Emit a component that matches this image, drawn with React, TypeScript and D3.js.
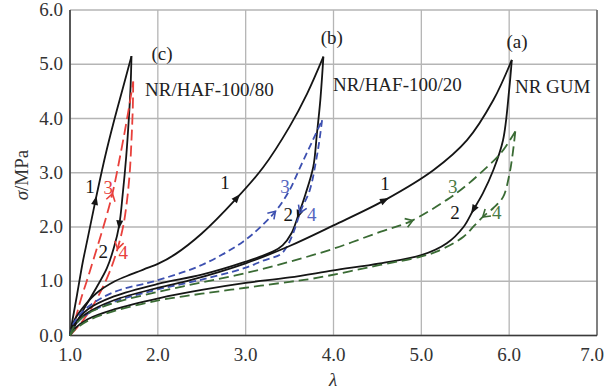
import React from 'react';
import * as d3 from 'd3';

type P = [number, number];

const xTicks = [1, 2, 3, 4, 5, 6, 7];
const yTicks = [0, 1, 2, 3, 4, 5, 6];

// (c) NR/HAF-100/80
const cLoad1: P[] = [[1.0, 0], [1.03, 0.3], [1.08, 0.75], [1.145, 1.35], [1.2, 1.78], [1.285, 2.45], [1.4, 3.3], [1.5, 3.95], [1.6, 4.55], [1.70, 5.15]];
const cUnload2: P[] = [[1.70, 5.15], [1.69, 4.6], [1.67, 4.0], [1.64, 3.3], [1.6, 2.6], [1.56, 2.03], [1.5, 1.62], [1.42, 1.24], [1.3, 0.88], [1.18, 0.55], [1.08, 0.25], [1.0, 0]];
const cLoad3: P[] = [[1.0, 0], [1.06, 0.3], [1.13, 0.7], [1.2, 1.05], [1.265, 1.39], [1.37, 1.95], [1.475, 2.56], [1.57, 3.3], [1.65, 4.0], [1.72, 4.68]];
const cUnload4: P[] = [[1.72, 4.68], [1.715, 4.2], [1.70, 3.6], [1.68, 3.0], [1.65, 2.5], [1.61, 2.05], [1.55, 1.65], [1.47, 1.25], [1.37, 0.88], [1.25, 0.52], [1.12, 0.22], [1.0, 0]];

// (b) NR/HAF-100/20
const bLoad1: P[] = [[1.0, 0], [1.05, 0.28], [1.17, 0.56], [1.3, 0.78], [1.51, 1.0], [1.7, 1.13], [1.89, 1.25], [2.0, 1.32], [2.2, 1.5], [2.5, 1.88], [2.88, 2.5], [3.2, 3.1], [3.5, 3.85], [3.7, 4.46], [3.885, 5.14]];
const bUnload2: P[] = [[3.885, 5.14], [3.85, 4.34], [3.81, 3.7], [3.77, 3.11], [3.68, 2.6], [3.6, 2.22], [3.52, 1.88], [3.42, 1.66], [3.315, 1.55], [3.0, 1.36], [2.5, 1.12], [2.0, 0.95], [1.5, 0.72], [1.2, 0.48], [1.05, 0.2], [1.0, 0]];
const bLoad3: P[] = [[1.0, 0], [1.05, 0.25], [1.2, 0.52], [1.5, 0.8], [2.0, 1.02], [2.5, 1.3], [2.97, 1.73], [3.2, 2.05], [3.35, 2.31], [3.5, 2.68], [3.62, 3.1], [3.75, 3.55], [3.87, 3.97]];
const bUnload4: P[] = [[3.87, 3.97], [3.84, 3.6], [3.81, 3.3], [3.73, 2.68], [3.63, 2.31], [3.54, 1.88], [3.47, 1.64], [3.4, 1.5], [3.2, 1.38], [3.0, 1.25], [2.5, 1.03], [2.0, 0.85], [1.5, 0.62], [1.2, 0.4], [1.05, 0.18], [1.0, 0]];

// (a) NR GUM
const aLoad1: P[] = [[1.0, 0], [1.05, 0.2], [1.2, 0.42], [1.5, 0.65], [2.0, 0.88], [2.37, 1.02], [3.0, 1.33], [3.5, 1.65], [4.0, 2.03], [4.59, 2.5], [5.14, 3.05], [5.52, 3.6], [5.82, 4.34], [6.03, 5.08]];
const aUnload2: P[] = [[6.03, 5.08], [6.0, 4.53], [5.93, 3.6], [5.82, 3.05], [5.7, 2.62], [5.59, 2.31], [5.48, 2.0], [5.29, 1.7], [5.0, 1.48], [4.53, 1.33], [4.0, 1.2], [3.5, 1.07], [3.0, 0.97], [2.5, 0.84], [2.02, 0.69], [1.5, 0.48], [1.2, 0.3], [1.05, 0.12], [1.0, 0]];
const aLoad3: P[] = [[1.0, 0], [1.05, 0.18], [1.2, 0.4], [1.5, 0.6], [2.02, 0.81], [2.5, 0.98], [3.0, 1.15], [3.5, 1.36], [4.0, 1.6], [4.53, 1.91], [4.87, 2.1], [5.29, 2.5], [5.5, 2.75], [5.71, 3.05], [5.9, 3.35], [6.07, 3.76]];
const aUnload4: P[] = [[6.07, 3.76], [6.04, 3.35], [6.0, 2.95], [5.93, 2.55], [5.82, 2.35], [5.71, 2.2], [5.6, 2.02], [5.48, 1.82], [5.18, 1.55], [4.985, 1.45], [4.53, 1.3], [3.77, 1.05], [3.5, 0.99], [3.0, 0.88], [2.5, 0.77], [2.02, 0.65], [1.5, 0.45], [1.2, 0.27], [1.05, 0.1], [1.0, 0]];

const BLACK = '#151515';
const RED = '#e8413c';
const BLUE = '#3d50b0';
const GREEN = '#3a6b34';

interface Series { data: P[]; color: string; dash?: string; arrowSigma: number; filled: boolean; label: string; labelColor: string; labelPos: P; }

const series: Series[] = [
  { data: cLoad1, color: BLACK, arrowSigma: 2.5, filled: true, label: '1', labelColor: BLACK, labelPos: [1.228, 2.74] },
  { data: cUnload2, color: BLACK, arrowSigma: 2.03, filled: true, label: '2', labelColor: BLACK, labelPos: [1.379, 1.545] },
  { data: cLoad3, color: RED, dash: '11 5', arrowSigma: 2.56, filled: false, label: '3', labelColor: RED, labelPos: [1.436, 2.72] },
  { data: cUnload4, color: RED, dash: '11 5', arrowSigma: 1.65, filled: false, label: '4', labelColor: RED, labelPos: [1.607, 1.52] },
  { data: bLoad1, color: BLACK, arrowSigma: 2.55, filled: true, label: '1', labelColor: BLACK, labelPos: [2.765, 2.81] },
  { data: bUnload2, color: BLACK, arrowSigma: 2.22, filled: true, label: '2', labelColor: BLACK, labelPos: [3.486, 2.22] },
  { data: bLoad3, color: BLUE, dash: '7 4', arrowSigma: 2.25, filled: false, label: '3', labelColor: '#5566c0', labelPos: [3.448, 2.74] },
  { data: bUnload4, color: BLUE, dash: '7 4', arrowSigma: 2.31, filled: false, label: '4', labelColor: '#5566c0', labelPos: [3.752, 2.22] },
  { data: aLoad1, color: BLACK, arrowSigma: 2.5, filled: true, label: '1', labelColor: BLACK, labelPos: [4.587, 2.79] },
  { data: aUnload2, color: BLACK, arrowSigma: 2.31, filled: true, label: '2', labelColor: BLACK, labelPos: [5.383, 2.25] },
  { data: aLoad3, color: GREEN, dash: '10 5', arrowSigma: 2.1, filled: false, label: '3', labelColor: '#4a7a44', labelPos: [5.357, 2.74] },
  { data: aUnload4, color: GREEN, dash: '10 5', arrowSigma: 2.22, filled: false, label: '4', labelColor: '#4a7a44', labelPos: [5.858, 2.26] },
];

const annotations: { text: string; pos: P; anchor: string }[] = [
  { text: '(c)', pos: [2.047, 5.19], anchor: 'middle' },
  { text: 'NR/HAF-100/80', pos: [1.854, 4.53], anchor: 'start' },
  { text: '(b)', pos: [3.98, 5.49], anchor: 'middle' },
  { text: 'NR/HAF-100/20', pos: [3.994, 4.62], anchor: 'start' },
  { text: '(a)', pos: [6.09, 5.41], anchor: 'middle' },
  { text: 'NR GUM', pos: [6.066, 4.58], anchor: 'start' },
];

const FONT_STYLE = { fontFamily: 'Liberation Serif, DejaVu Serif, serif' };

export default function App() {
  const x = d3.scaleLinear().domain([1, 7]).range([70, 597]);
  const y = d3.scaleLinear().domain([0, 6]).range([335.5, 10]);
  const line = d3.line<P>().x(d => x(d[0])).y(d => y(d[1])).curve(d3.curveCatmullRom.alpha(0.5));

  const arrowAt = (data: P[], s: number) => {
    for (let i = 0; i < data.length - 1; i++) {
      const a = data[i], b = data[i + 1];
      if ((a[1] - s) * (b[1] - s) <= 0 && a[1] !== b[1]) {
        const t = (s - a[1]) / (b[1] - a[1]);
        const px = x(a[0] + t * (b[0] - a[0]));
        const py = y(s);
        const ang = Math.atan2(y(b[1]) - y(a[1]), x(b[0]) - x(a[0])) * 180 / Math.PI;
        return { px, py, ang };
      }
    }
    return null;
  };

  return (
    <svg width={607} height={389} style={{ position: 'absolute', left: 0, top: 0, background: '#fff', ...FONT_STYLE }}>
      <rect x={0} y={0} width={607} height={389} fill="#fff" />
      {xTicks.map(t => (
        <line key={'gx' + t} x1={x(t)} x2={x(t)} y1={y(0)} y2={y(6)} stroke="#b5b5b5" strokeWidth={1.3} />
      ))}
      {yTicks.map(t => (
        <line key={'gy' + t} x1={x(1)} x2={x(7)} y1={y(t)} y2={y(t)} stroke="#b5b5b5" strokeWidth={1.3} />
      ))}
      <line x1={x(7)} x2={x(7)} y1={y(0)} y2={y(6)} stroke="#666" strokeWidth={1.5} />
      <line x1={x(1)} x2={x(1)} y1={y(0) + 0.5} y2={y(6)} stroke="#3a3a3a" strokeWidth={1.6} />
      <line x1={x(1)} x2={x(7)} y1={y(0)} y2={y(0)} stroke="#3a3a3a" strokeWidth={1.6} />

      {xTicks.map((t, i) => (
        <text key={'tx' + t} x={i === xTicks.length - 1 ? x(t) - 5 : x(t)} y={361} textAnchor="middle" style={FONT_STYLE} fontSize={19} fill="#333">{t.toFixed(1)}</text>
      ))}
      {yTicks.map(t => (
        <text key={'ty' + t} x={63} y={y(t) + 6} textAnchor="end" style={FONT_STYLE} fontSize={19} fill="#333">{t.toFixed(1)}</text>
      ))}
      <text x={333} y={386} textAnchor="middle" style={FONT_STYLE} fontSize={19} fontStyle="italic" fill="#333">λ</text>
      <text transform="translate(28,175) rotate(-90)" textAnchor="middle" style={FONT_STYLE} fontSize={19} fill="#333">
        <tspan fontStyle="italic">σ</tspan>/MPa
      </text>

      {series.map((s, i) => (
        <path key={'p' + i} d={line(s.data) || ''} fill="none" stroke={s.color} strokeWidth={1.8} strokeDasharray={s.dash} />
      ))}
      {series.map((s, i) => {
        const a = arrowAt(s.data, s.arrowSigma);
        if (!a) return null;
        return (
          <g key={'a' + i} transform={`translate(${a.px},${a.py}) rotate(${a.ang})`}>
            {s.filled
              ? <polygon points="4,0 -5,-3.5 -5,3.5" fill={s.color} />
              : <polyline points="-4,-4.5 3,0 -4,4.5" fill="none" stroke={s.color} strokeWidth={1.6} />}
          </g>
        );
      })}
      {series.map((s, i) => (
        <text key={'l' + i} x={x(s.labelPos[0])} y={y(s.labelPos[1]) + 6} textAnchor="middle" style={FONT_STYLE} fontSize={19} fill={s.labelColor}>{s.label}</text>
      ))}
      {annotations.map((a, i) => (
        <text key={'n' + i} x={x(a.pos[0])} y={y(a.pos[1]) + 6} textAnchor={a.anchor as any} style={FONT_STYLE} fontSize={19} fill="#222">{a.text}</text>
      ))}
    </svg>
  );
}
